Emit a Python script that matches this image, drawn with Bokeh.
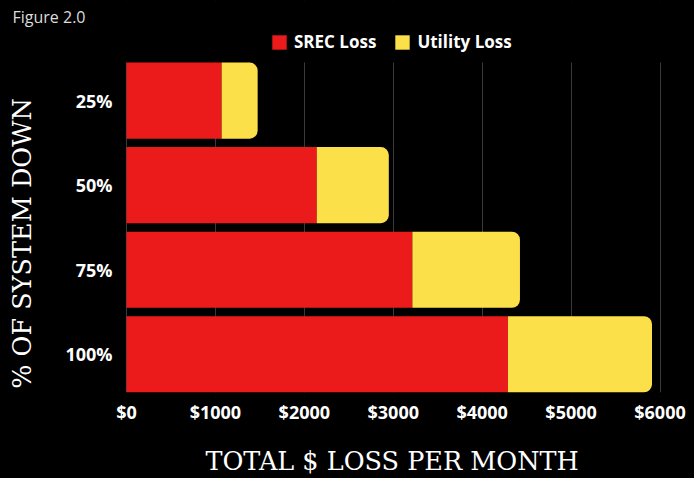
import math
from bokeh.plotting import figure
from bokeh.models import (Range1d, Legend, LegendItem, Label, BoxAnnotation,
                          FixedTicker, ColumnDataSource)
from bokeh.core.properties import value
from bokeh.embed import file_html
from bokeh.resources import INLINE

# data
categories = ["25%", "50%", "75%", "100%"]
srec_loss = [1070, 2140, 3215, 4290]
utility_loss = [405, 810, 1210, 1620]
x_ticks = [0, 1000, 2000, 3000, 4000, 5000, 6000]
x_tick_labels = ["$0", "$1000", "$2000", "$3000", "$4000", "$5000", "$6000"]
series_names = ["SREC Loss", "Utility Loss"]

RED = "#ec1b1b"
YELLOW = "#fce04a"
BG = "#000000"
SERIF = "DejaVu Serif"

n = len(categories)
ypos = [n - 1 - i for i in range(n)]          # first category on top
source = ColumnDataSource(dict(cat=categories, y=ypos, srec=srec_loss,
                               util=utility_loss, zero=[0] * n))

# frame covers the whole canvas width; x=0 sits 126px from the left edge
p = figure(width=694, height=478, output_backend="svg", toolbar_location=None,
           x_range=Range1d(-1417, 6388), y_range=Range1d(-0.5, 4.184),
           min_border_left=0, min_border_right=0, min_border_top=0,
           min_border_bottom=81)
p.background_fill_color = BG
p.border_fill_color = BG
p.outline_line_color = None
p.yaxis.visible = False

# grid, trimmed to the bar block
p.xgrid.ticker = FixedTicker(ticks=x_ticks)
p.xgrid.grid_line_color = "#3a3a3a"
p.ygrid.grid_line_color = None
p.add_layout(BoxAnnotation(bottom=n - 1 + 0.45, fill_color=BG, fill_alpha=1,
                           line_color=None, level="underlay"))
p.add_layout(BoxAnnotation(top=-0.45, fill_color=BG, fill_alpha=1,
                           line_color=None, level="underlay"))

rs = p.hbar_stack(["srec", "util"], y="y", height=0.9, source=source,
                  color=[RED, YELLOW], line_color=None)
rs[1].glyph.border_radius = (0, 8, 8, 0)

# category labels at the value axis origin
p.text(x="zero", y="y", text="cat", source=source, x_offset=-14,
       text_align="right", text_baseline="middle", text_color="white",
       text_font=value("Open Sans"), text_font_style="bold",
       text_font_size="18px")

# x axis
xa = p.xaxis[0]
xa.ticker = FixedTicker(ticks=x_ticks)
xa.major_label_overrides = {t: l for t, l in zip(x_ticks, x_tick_labels)}
xa.axis_line_color = None
xa.major_tick_line_color = None
xa.minor_tick_line_color = None
xa.major_label_text_color = "white"
xa.major_label_text_font = "Open Sans"
xa.major_label_text_font_style = "bold"
xa.major_label_text_font_size = "18px"
xa.major_label_standoff = -3
# leading no-break spaces centre the label over the bars, as in the reference
xa.axis_label = "\u00a0" * 11 + "TOTAL $ LOSS PER MONTH"
xa.axis_label_text_font = SERIF
xa.axis_label_text_font_style = "normal"
xa.axis_label_text_font_size = "25.5px"
xa.axis_label_text_color = "white"
xa.axis_label_standoff = 19

# y axis title
p.add_layout(Label(x=21.5, y=153, x_units="screen", y_units="screen",
                   text="% OF SYSTEM DOWN", angle=math.pi / 2,
                   text_align="center", text_baseline="middle",
                   text_font=SERIF, text_font_size="25.5px",
                   text_color="white"))

# caption
p.add_layout(Label(x=12, y=391, x_units="screen", y_units="screen",
                   text="Figure 2.0", text_align="left", text_baseline="top",
                   text_font="Open Sans", text_font_size="16px",
                   text_color="#dddddd"))

legend = Legend(items=[LegendItem(label=series_names[0], renderers=[rs[0]]),
                       LegendItem(label=series_names[1], renderers=[rs[1]])],
                location=(270, 343), orientation="horizontal",
                glyph_width=18, glyph_height=18, label_height=18,
                label_standoff=6, spacing=17, padding=0, margin=0,
                background_fill_alpha=0, border_line_color=None,
                label_text_color="white", label_text_font="Open Sans",
                label_text_font_style="bold", label_text_font_size="17px")
p.add_layout(legend, "center")

html = file_html(p, INLINE)
html = html.replace("</head>",
                    "<style>html, body { background: #000000; }</style></head>", 1)
open("out.html", "w").write(html)
